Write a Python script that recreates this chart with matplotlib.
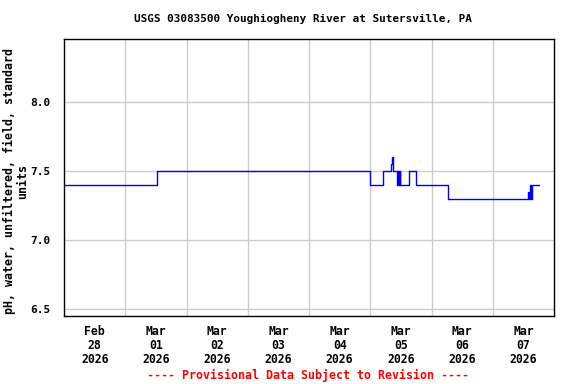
import matplotlib
matplotlib.use("Agg")
import matplotlib.pyplot as plt
import numpy as np
from datetime import datetime, timedelta

# Data: hours since 2026-02-28 00:00 and pH values (step changes)
hours = [0, 36.5, 120.0, 125.0, 128.25, 128.5, 129.1, 130.6, 131.0, 131.25,
         131.5, 131.75, 135.0, 137.75, 150.5, 181.75, 182.25, 182.5, 183.0,
         183.25, 186.1]
ph = [7.4, 7.5, 7.4, 7.5, 7.55, 7.6, 7.5, 7.4, 7.5, 7.4,
      7.5, 7.4, 7.5, 7.4, 7.3, 7.35, 7.3, 7.4, 7.3,
      7.4, 7.4]

title = "USGS 03083500 Youghiogheny River at Sutersville, PA"
ylabel = "pH, water, unfiltered, field, standard\nunits"
footer = "---- Provisional Data Subject to Revision ----"
yticks = [6.5, 7.0, 7.5, 8.0]
day_labels = ["Feb\n28\n2026", "Mar\n01\n2026", "Mar\n02\n2026", "Mar\n03\n2026",
              "Mar\n04\n2026", "Mar\n05\n2026", "Mar\n06\n2026", "Mar\n07\n2026"]

start = datetime(2026, 2, 28)
times = [start + timedelta(hours=h) for h in hours]

base = dict(family="DejaVu Sans Mono", weight="bold")

fig = plt.figure(figsize=(5.76, 3.84), dpi=100)
ax = fig.add_axes([64/576, 1-315.7/384, (554-64)/576, (315.7-39.3)/384])

ax.plot(times, ph, color="#0000ff", lw=1.0, drawstyle="steps-post")

ax.set_xlim(start, start + timedelta(days=8))
ax.set_ylim(6.451, 8.454)

# gridlines at midnight, labels at noon
ax.set_xticks([start + timedelta(days=d) for d in range(1, 8)])
ax.set_xticks([start + timedelta(days=d, hours=12) for d in range(8)], minor=True)
ax.set_xticklabels([""] * 7)
ax.set_xticklabels(day_labels, minor=True, size=8.3, linespacing=1.1, **base)
ax.tick_params(axis="x", which="both", length=0, pad=6.5)
ax.grid(True, axis="x", which="major", color="#cccccc", lw=1)

ax.set_yticks(yticks)
ax.set_yticklabels([f"{v:.1f}" for v in yticks], size=8.0, **base)
ax.tick_params(axis="y", length=0, pad=9.5)
ax.grid(True, axis="y", color="#cccccc", lw=1)
ax.set_axisbelow(True)

for s in ax.spines.values():
    s.set_color("black")
    s.set_linewidth(1)

fig.text(303/576, 1-19/384, title, ha="center", va="center", size=7.9, **base)
fig.text(16/576, 1-181/384, ylabel, ha="center", va="center", rotation=90,
         multialignment="center", linespacing=1.1, size=8.4, **base)
fig.text(308/576, 1-375/384, footer, ha="center", va="center", color="#ff0000",
         size=8.4, **base)

fig.savefig("out.png", dpi=100)
